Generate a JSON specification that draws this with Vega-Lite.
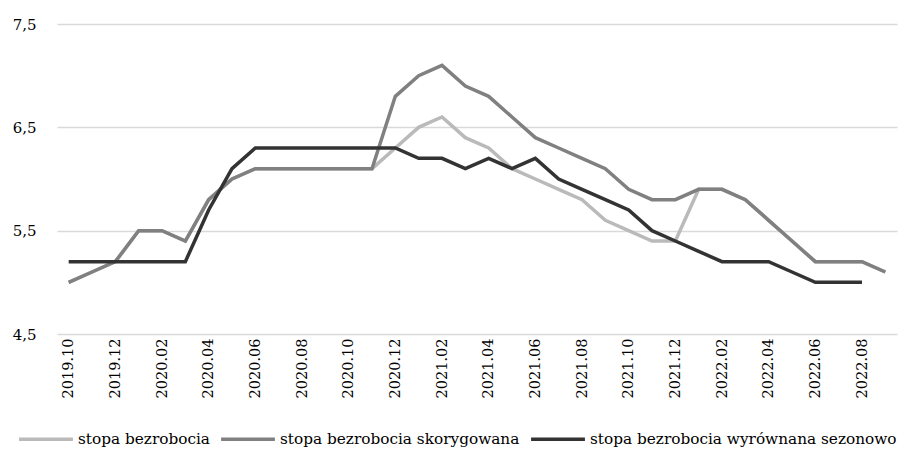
{
  "$schema": "https://vega.github.io/schema/vega-lite/v6.json",
  "autosize": "none",
  "width": 840,
  "height": 310,
  "padding": {"left": 57, "top": 24, "right": 5, "bottom": 116},
  "background": "white",
  "config": {"view": {"stroke": null}, "font": "DejaVu Serif"},
  "data": {"values": [
    {"m":"2019.10","s":"stopa bezrobocia","v":5.0},
    {"m":"2019.11","s":"stopa bezrobocia","v":5.1},
    {"m":"2019.12","s":"stopa bezrobocia","v":5.2},
    {"m":"2020.01","s":"stopa bezrobocia","v":5.5},
    {"m":"2020.02","s":"stopa bezrobocia","v":5.5},
    {"m":"2020.03","s":"stopa bezrobocia","v":5.4},
    {"m":"2020.04","s":"stopa bezrobocia","v":5.8},
    {"m":"2020.05","s":"stopa bezrobocia","v":6.0},
    {"m":"2020.06","s":"stopa bezrobocia","v":6.1},
    {"m":"2020.07","s":"stopa bezrobocia","v":6.1},
    {"m":"2020.08","s":"stopa bezrobocia","v":6.1},
    {"m":"2020.09","s":"stopa bezrobocia","v":6.1},
    {"m":"2020.10","s":"stopa bezrobocia","v":6.1},
    {"m":"2020.11","s":"stopa bezrobocia","v":6.1},
    {"m":"2020.12","s":"stopa bezrobocia","v":6.3},
    {"m":"2021.01","s":"stopa bezrobocia","v":6.5},
    {"m":"2021.02","s":"stopa bezrobocia","v":6.6},
    {"m":"2021.03","s":"stopa bezrobocia","v":6.4},
    {"m":"2021.04","s":"stopa bezrobocia","v":6.3},
    {"m":"2021.05","s":"stopa bezrobocia","v":6.1},
    {"m":"2021.06","s":"stopa bezrobocia","v":6.0},
    {"m":"2021.07","s":"stopa bezrobocia","v":5.9},
    {"m":"2021.08","s":"stopa bezrobocia","v":5.8},
    {"m":"2021.09","s":"stopa bezrobocia","v":5.6},
    {"m":"2021.10","s":"stopa bezrobocia","v":5.5},
    {"m":"2021.11","s":"stopa bezrobocia","v":5.4},
    {"m":"2021.12","s":"stopa bezrobocia","v":5.4},
    {"m":"2022.01","s":"stopa bezrobocia","v":5.9},
    {"m":"2022.02","s":"stopa bezrobocia","v":5.9},
    {"m":"2022.03","s":"stopa bezrobocia","v":5.8},
    {"m":"2022.04","s":"stopa bezrobocia","v":5.6},
    {"m":"2022.05","s":"stopa bezrobocia","v":5.4},
    {"m":"2022.06","s":"stopa bezrobocia","v":5.2},
    {"m":"2022.07","s":"stopa bezrobocia","v":5.2},
    {"m":"2022.08","s":"stopa bezrobocia","v":5.2},
    {"m":"2022.09","s":"stopa bezrobocia","v":5.1},
    {"m":"2019.10","s":"stopa bezrobocia skorygowana","v":5.0},
    {"m":"2019.11","s":"stopa bezrobocia skorygowana","v":5.1},
    {"m":"2019.12","s":"stopa bezrobocia skorygowana","v":5.2},
    {"m":"2020.01","s":"stopa bezrobocia skorygowana","v":5.5},
    {"m":"2020.02","s":"stopa bezrobocia skorygowana","v":5.5},
    {"m":"2020.03","s":"stopa bezrobocia skorygowana","v":5.4},
    {"m":"2020.04","s":"stopa bezrobocia skorygowana","v":5.8},
    {"m":"2020.05","s":"stopa bezrobocia skorygowana","v":6.0},
    {"m":"2020.06","s":"stopa bezrobocia skorygowana","v":6.1},
    {"m":"2020.07","s":"stopa bezrobocia skorygowana","v":6.1},
    {"m":"2020.08","s":"stopa bezrobocia skorygowana","v":6.1},
    {"m":"2020.09","s":"stopa bezrobocia skorygowana","v":6.1},
    {"m":"2020.10","s":"stopa bezrobocia skorygowana","v":6.1},
    {"m":"2020.11","s":"stopa bezrobocia skorygowana","v":6.1},
    {"m":"2020.12","s":"stopa bezrobocia skorygowana","v":6.8},
    {"m":"2021.01","s":"stopa bezrobocia skorygowana","v":7.0},
    {"m":"2021.02","s":"stopa bezrobocia skorygowana","v":7.1},
    {"m":"2021.03","s":"stopa bezrobocia skorygowana","v":6.9},
    {"m":"2021.04","s":"stopa bezrobocia skorygowana","v":6.8},
    {"m":"2021.05","s":"stopa bezrobocia skorygowana","v":6.6},
    {"m":"2021.06","s":"stopa bezrobocia skorygowana","v":6.4},
    {"m":"2021.07","s":"stopa bezrobocia skorygowana","v":6.3},
    {"m":"2021.08","s":"stopa bezrobocia skorygowana","v":6.2},
    {"m":"2021.09","s":"stopa bezrobocia skorygowana","v":6.1},
    {"m":"2021.10","s":"stopa bezrobocia skorygowana","v":5.9},
    {"m":"2021.11","s":"stopa bezrobocia skorygowana","v":5.8},
    {"m":"2021.12","s":"stopa bezrobocia skorygowana","v":5.8},
    {"m":"2022.01","s":"stopa bezrobocia skorygowana","v":5.9},
    {"m":"2022.02","s":"stopa bezrobocia skorygowana","v":5.9},
    {"m":"2022.03","s":"stopa bezrobocia skorygowana","v":5.8},
    {"m":"2022.04","s":"stopa bezrobocia skorygowana","v":5.6},
    {"m":"2022.05","s":"stopa bezrobocia skorygowana","v":5.4},
    {"m":"2022.06","s":"stopa bezrobocia skorygowana","v":5.2},
    {"m":"2022.07","s":"stopa bezrobocia skorygowana","v":5.2},
    {"m":"2022.08","s":"stopa bezrobocia skorygowana","v":5.2},
    {"m":"2022.09","s":"stopa bezrobocia skorygowana","v":5.1},
    {"m":"2019.10","s":"stopa bezrobocia wyrównana sezonowo","v":5.2},
    {"m":"2019.11","s":"stopa bezrobocia wyrównana sezonowo","v":5.2},
    {"m":"2019.12","s":"stopa bezrobocia wyrównana sezonowo","v":5.2},
    {"m":"2020.01","s":"stopa bezrobocia wyrównana sezonowo","v":5.2},
    {"m":"2020.02","s":"stopa bezrobocia wyrównana sezonowo","v":5.2},
    {"m":"2020.03","s":"stopa bezrobocia wyrównana sezonowo","v":5.2},
    {"m":"2020.04","s":"stopa bezrobocia wyrównana sezonowo","v":5.7},
    {"m":"2020.05","s":"stopa bezrobocia wyrównana sezonowo","v":6.1},
    {"m":"2020.06","s":"stopa bezrobocia wyrównana sezonowo","v":6.3},
    {"m":"2020.07","s":"stopa bezrobocia wyrównana sezonowo","v":6.3},
    {"m":"2020.08","s":"stopa bezrobocia wyrównana sezonowo","v":6.3},
    {"m":"2020.09","s":"stopa bezrobocia wyrównana sezonowo","v":6.3},
    {"m":"2020.10","s":"stopa bezrobocia wyrównana sezonowo","v":6.3},
    {"m":"2020.11","s":"stopa bezrobocia wyrównana sezonowo","v":6.3},
    {"m":"2020.12","s":"stopa bezrobocia wyrównana sezonowo","v":6.3},
    {"m":"2021.01","s":"stopa bezrobocia wyrównana sezonowo","v":6.2},
    {"m":"2021.02","s":"stopa bezrobocia wyrównana sezonowo","v":6.2},
    {"m":"2021.03","s":"stopa bezrobocia wyrównana sezonowo","v":6.1},
    {"m":"2021.04","s":"stopa bezrobocia wyrównana sezonowo","v":6.2},
    {"m":"2021.05","s":"stopa bezrobocia wyrównana sezonowo","v":6.1},
    {"m":"2021.06","s":"stopa bezrobocia wyrównana sezonowo","v":6.2},
    {"m":"2021.07","s":"stopa bezrobocia wyrównana sezonowo","v":6.0},
    {"m":"2021.08","s":"stopa bezrobocia wyrównana sezonowo","v":5.9},
    {"m":"2021.09","s":"stopa bezrobocia wyrównana sezonowo","v":5.8},
    {"m":"2021.10","s":"stopa bezrobocia wyrównana sezonowo","v":5.7},
    {"m":"2021.11","s":"stopa bezrobocia wyrównana sezonowo","v":5.5},
    {"m":"2021.12","s":"stopa bezrobocia wyrównana sezonowo","v":5.4},
    {"m":"2022.01","s":"stopa bezrobocia wyrównana sezonowo","v":5.3},
    {"m":"2022.02","s":"stopa bezrobocia wyrównana sezonowo","v":5.2},
    {"m":"2022.03","s":"stopa bezrobocia wyrównana sezonowo","v":5.2},
    {"m":"2022.04","s":"stopa bezrobocia wyrównana sezonowo","v":5.2},
    {"m":"2022.05","s":"stopa bezrobocia wyrównana sezonowo","v":5.1},
    {"m":"2022.06","s":"stopa bezrobocia wyrównana sezonowo","v":5.0},
    {"m":"2022.07","s":"stopa bezrobocia wyrównana sezonowo","v":5.0},
    {"m":"2022.08","s":"stopa bezrobocia wyrównana sezonowo","v":5.0}
  ]},
  "mark": {"type": "line", "strokeWidth": 3.5, "strokeJoin": "miter", "strokeCap": "butt"},
  "encoding": {
    "x": {
      "field": "m", "type": "ordinal",
      "scale": {"type": "point", "padding": 0.5},
      "axis": {
        "title": null,
        "values": ["2019.10","2019.12","2020.02","2020.04","2020.06","2020.08","2020.10","2020.12","2021.02","2021.04","2021.06","2021.08","2021.10","2021.12","2022.02","2022.04","2022.06","2022.08"],
        "labelAngle": -90, "labelAlign": "right", "labelBaseline": "middle",
        "labelPadding": 4, "ticks": false, "domain": false, "grid": false,
        "labelFont": "DejaVu Serif", "labelFontSize": 14.5, "labelColor": "#000000"
      }
    },
    "y": {
      "field": "v", "type": "quantitative",
      "scale": {"domain": [4.5, 7.5], "nice": false, "zero": false},
      "axis": {
        "title": null, "values": [4.5, 5.5, 6.5, 7.5],
        "labelExpr": "replace(format(datum.value, '.1f'), '.', ',')",
        "grid": true, "gridColor": "#d9d9d9", "gridWidth": 1.5,
        "domain": false, "ticks": false, "labelPadding": 21,
        "labelFont": "DejaVu Serif", "labelFontSize": 15, "labelColor": "#000000"
      }
    },
    "color": {
      "field": "s", "type": "nominal",
      "scale": {
        "domain": ["stopa bezrobocia", "stopa bezrobocia skorygowana", "stopa bezrobocia wyrównana sezonowo"],
        "range": ["#bababa", "#808080", "#333333"]
      },
      "legend": {
        "title": null, "orient": "none", "direction": "horizontal",
        "legendX": -40, "legendY": 386,
        "symbolType": "stroke", "symbolSize": 2900, "symbolStrokeWidth": 3.5,
        "labelOffset": 3, "columnPadding": 4,
        "labelFont": "DejaVu Serif", "labelFontSize": 15.3, "labelColor": "#000000",
        "labelLimit": 400
      }
    }
  }
}
